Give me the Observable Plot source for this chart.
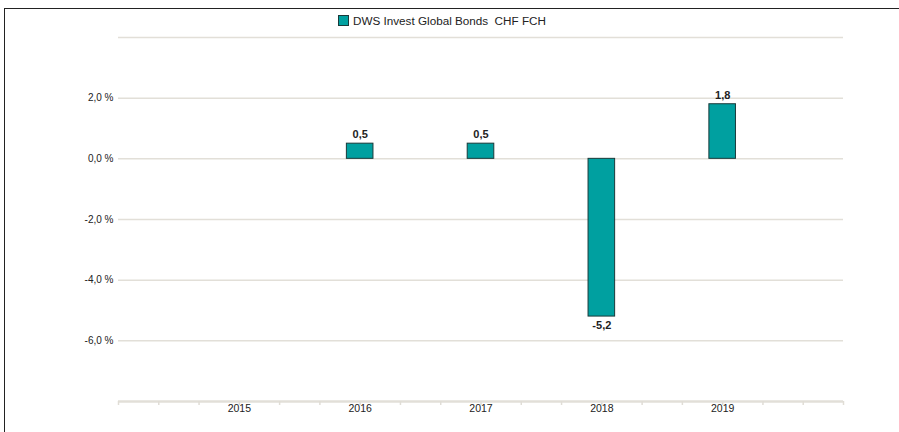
<!DOCTYPE html>
<html><head><meta charset="utf-8">
<script src="https://cdn.jsdelivr.net/npm/d3@7"></script>
<script src="https://cdn.jsdelivr.net/npm/@observablehq/plot@0.6"></script>
<style>
body{margin:0;background:#fff;font-family:"Liberation Sans",Arial,sans-serif;}
#wrap{position:relative;width:899px;height:432px;overflow:hidden;}
#frame{position:absolute;left:4px;top:8px;width:900px;height:430px;border-left:1.5px solid #222;border-top:1.5px solid #222;}
#legend{position:absolute;left:338px;top:14px;font-size:11.7px;color:#222;display:flex;align-items:center;gap:4px;}
#legend span.sw{display:inline-block;width:9px;height:9px;background:#00A0A0;border:1px solid #1a3a3a;}
</style></head>
<body>
<div id="wrap">
<div id="chart"></div>
<div id="frame"></div>
<div id="legend"><span class="sw"></span><span id="lgtext"></span></div>
</div>
<script>
const seriesName = "DWS Invest Global Bonds\u00a0\u00a0CHF FCH";
const years = [2016, 2017, 2018, 2019];
const values = [0.5, 0.5, -5.2, 1.8];
const xLabels = [2015, 2016, 2017, 2018, 2019];
const yLabels = [2, 0, -2, -4, -6];
const gridLines = [4, 2, 0, -2, -4, -6];

document.getElementById("lgtext").textContent = seriesName;

const data = years.map((y, i) => ({year: y, value: values[i]}));
const half = 0.11;
const fmt = v => v.toFixed(1).replace(".", ",");
const labelsPos = data.filter(d => d.value >= 0);
const labelsNeg = data.filter(d => d.value < 0);

const chart = Plot.plot({
  width: 899, height: 432,
  marginLeft: 118, marginRight: 56, marginTop: 37, marginBottom: 31,
  style: {fontFamily: '"Liberation Sans", Arial, sans-serif', fontSize: "10px", color: "#222", background: "transparent"},
  x: {domain: [2014, 2020], type: "linear", axis: null},
  y: {domain: [-8, 4], axis: null},
  marks: [
    Plot.ruleY(gridLines, {stroke: "#e2dfd8", strokeWidth: 1.5}),
    Plot.ruleY([-8], {stroke: "#e2dfd8", strokeWidth: 2.5}),
    Plot.axisX({anchor: "bottom", ticks: d3.range(0, 19).map(i => 2014 + i / 3), tickFormat: () => "", tickSize: 4, stroke: "#e0ddd6", strokeWidth: 1.5, strokeOpacity: 1, label: null}),
    Plot.axisX({anchor: "bottom", ticks: xLabels, tickFormat: d => String(d), tickSize: 0, tickPadding: 3, label: null, fontSize: 10.5, fill: "#222"}),
    Plot.axisY({anchor: "left", ticks: yLabels, tickFormat: d => fmt(d) + " %", tickSize: 0, tickPadding: 5, label: null, fontSize: 10, fill: "#222"}),
    Plot.rectY(data, {x1: d => d.year - half, x2: d => d.year + half, y1: 0, y2: "value", fill: "#00A0A0", stroke: "#1a3a3a", strokeWidth: 1}),
    Plot.text(labelsPos, {x: "year", y: "value", text: d => fmt(d.value), dy: -9, fontSize: 11, fontWeight: 600, fill: "#222"}),
    Plot.text(labelsNeg, {x: "year", y: "value", text: d => fmt(d.value), dy: 9, fontSize: 11, fontWeight: 600, fill: "#222"})
  ]
});
document.getElementById("chart").appendChild(chart);
</script>
</body></html>
